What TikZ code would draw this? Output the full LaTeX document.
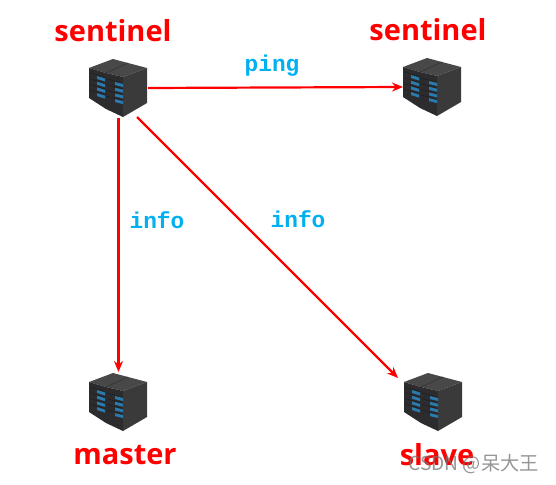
\documentclass[tikz,border=0pt]{standalone}
\usepackage{fontspec}
\setmainfont{Open Sans}
\newfontfamily\monob{Liberation Mono}
\newfontfamily\cjk{Noto Sans CJK SC}
\usetikzlibrary{arrows.meta}
\definecolor{srvtop}{HTML}{484848}
\definecolor{srvleft}{HTML}{2C2C2E}
\definecolor{srvright}{HTML}{3A3A3A}
\definecolor{srvled}{HTML}{2A7AAE}
\definecolor{tagblue}{HTML}{00B0F0}
\tikzset{
  x=1pt,y=-1pt,
  srvnode/.style={minimum width=59pt,minimum height=60pt,inner sep=0pt,outer sep=0pt},
  title/.style={text=red,font=\bfseries\fontsize{29}{32}\selectfont,inner sep=0pt},
  tag/.style={text=tagblue,font=\monob\bfseries\fontsize{22.8}{25}\selectfont,inner sep=0pt},
  link/.style={draw=red,line width=2.2pt,-{Stealth[length=11pt,width=9pt]}},
  wmark/.style={text=black!55,font=\cjk\fontsize{19.2}{22}\selectfont,inner sep=0pt,opacity=.75},
  pics/server/.style={code={
    % local origin = top-left of the icon box
    \fill[srvtop] (0,10) -- (24,1) -- (39,5) -- (58,10) -- (34,19) -- (17,15) -- cycle;
    \fill[srvleft] (0,10) -- (17,15) -- (17,51) -- (0,40) -- cycle;
    \fill[srvleft] (17,15) -- (34,19) -- (34,59) -- (17,51) -- cycle;
    \fill[srvright] (34,19) -- (58,10) -- (58,45) -- (34,59) -- cycle;
    \draw[black!80,line width=.6pt] (17,15) -- (39,5);
    \foreach \i in {0,1,2,3}{
      \fill[srvled] (8,{18+5.7*\i}) -- (16,{20.5+5.7*\i}) -- (16,{23.5+5.7*\i}) -- (8,{21+5.7*\i}) -- cycle;
      \fill[srvled] (26,{24+5.7*\i}) -- (34,{26+5.7*\i}) -- (34,{29+5.7*\i}) -- (26,{27+5.7*\i}) -- cycle;
      \draw[black!40!srvleft,line width=.4pt] (1,{15+5.7*\i}) -- (16,{19.5+5.7*\i});
      \draw[black!40!srvleft,line width=.4pt] (18,{21+5.7*\i}) -- (33,{25+5.7*\i});
    }
  }}
}
\begin{document}
\begin{tikzpicture}
\useasboundingbox[fill=white] (0,0) rectangle (556,484);
% server nodes
\node[srvnode] (s1) at (118.5,88) {};
\node[srvnode] (s2) at (432.5,87) {};
\node[srvnode] (ma) at (118.5,402) {};
\node[srvnode] (sl) at (433.5,402) {};
\pic at (89,58) {server};
\pic at (403,57) {server};
\pic at (89,372) {server};
\pic at (404,372) {server};
% titles
\node[title] (t1) at (113,31) {sentinel};
\node[title] (t2) at (428,30) {sentinel};
\node[title] (t3) at (125,455) {master};
\node[title] (t4) at (437,455) {slave};
% tags
\node[tag] (l1) at (272,66) {ping};
\node[tag] (l2) at (157,220) {info};
\node[tag] (l3) at (298,219) {info};
% connectors
\coordinate (da) at (137,117);
\coordinate (db) at (398,378);
\draw[link] (s1.east) -- (s2.west);
\draw[link] (s1.south) -- (ma.north);
\draw[link] (da) -- (db);
% watermark
\node[wmark] (wm) at (473.5,464.5) {CSDN @呆大王};
\end{tikzpicture}
\end{document}
